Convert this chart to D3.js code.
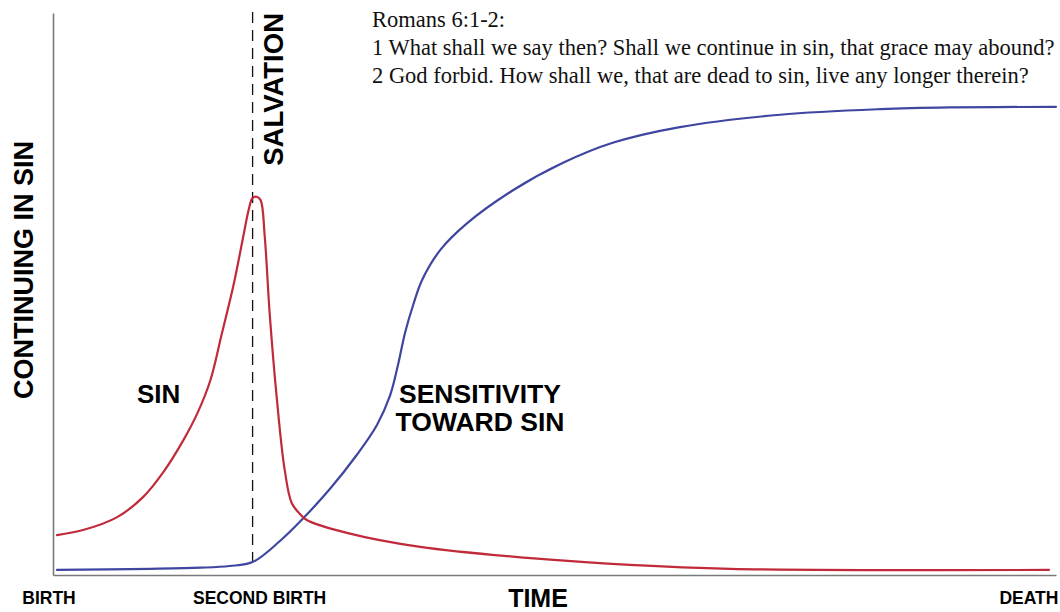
<!DOCTYPE html>
<html>
<head>
<meta charset="utf-8">
<script src="https://cdn.jsdelivr.net/npm/d3@7"></script>
<style>
  html, body { margin: 0; padding: 0; background: #fff; }
  svg { display: block; }
  .bold { font-family: "Liberation Sans", Arial, sans-serif; font-weight: bold; fill: #000; }
  .verse { font-family: "Liberation Serif", "Times New Roman", serif; fill: #111; }
</style>
</head>
<body>
<svg id="chart"></svg>
<script>
// time runs 0 (birth) .. 100 (death), level 0 .. 100
var sinTime = [0.4, 3.0, 6.4, 9.0, 11.0, 13.0, 14.4, 15.7, 16.8, 18.0, 19.0, 19.5, 19.9, 20.3, 20.7, 21.1, 21.6, 22.3, 23.1, 23.8, 24.6, 25.3, 29.3, 36.6, 47.6, 57.5, 67.5, 99.3];
var sinLevel = [7.1, 8.0, 10.3, 13.9, 18.3, 24.0, 28.8, 34.7, 42.7, 51.6, 60.5, 64.9, 67.1, 67.3, 66.7, 60.5, 46.6, 31.7, 18.7, 12.8, 10.9, 9.8, 7.5, 5.0, 3.0, 1.8, 1.1, 0.9];

var sensTime = [0.4, 9.7, 14.7, 17.6, 19.9, 22.6, 24.9, 27.6, 30.3, 32.3, 33.6, 34.4, 35.1, 35.9, 36.8, 38.6, 41.3, 45.9, 50.8, 55.8, 62.5, 72.5, 82.5, 89.4, 100];
var sensLevel = [0.9, 1.1, 1.3, 1.6, 2.3, 6.0, 10.0, 15.3, 21.4, 26.7, 31.9, 37.4, 43.1, 48.0, 52.5, 57.8, 62.6, 68.5, 73.3, 76.9, 79.7, 81.9, 82.9, 83.2, 83.3];

var salvationTime = 19.9;
var salvationFrom = 100.2;
var salvationTo = 2.3;

var tickLabels = ["BIRTH", "SECOND BIRTH", "DEATH"];
var tickTimes = [-0.4, 20.6, 97.3];

var verseLines = [
  "Romans 6:1-2:",
  "1 What shall we say then? Shall we continue in sin, that grace may abound?",
  "2 God forbid. How shall we, that are dead to sin, live any longer therein?"
];

var W = 1060, H = 612;
var padding = {left: 53, right: 4, top: 13, bottom: 37};
var chartArea = {width: W - padding.left - padding.right, height: H - padding.top - padding.bottom};

var svg = d3.select('#chart').attr('width', W).attr('height', H);

var xScale = d3.scaleLinear().domain([0, 100]).range([padding.left, padding.left + chartArea.width]);
var yScale = d3.scaleLinear().domain([0, 100]).range([padding.top + chartArea.height, padding.top]);

// axes: bare lines, no ticks
svg.append('g').attr('class', 'x-axis')
  .attr('transform', 'translate(0,' + yScale(0) + ')')
  .call(d3.axisBottom(xScale).tickValues([]).tickSizeOuter(0))
  .select('.domain').attr('stroke', '#7a7a7a').attr('stroke-width', 1.6);
svg.append('g').attr('class', 'y-axis')
  .attr('transform', 'translate(' + xScale(0) + ',0)')
  .call(d3.axisLeft(yScale).tickValues([]).tickSizeOuter(0))
  .select('.domain').attr('stroke', '#7a7a7a').attr('stroke-width', 1.6);

// salvation marker
svg.append('line')
  .attr('x1', xScale(salvationTime)).attr('x2', xScale(salvationTime))
  .attr('y1', yScale(salvationFrom)).attr('y2', yScale(salvationTo))
  .attr('stroke', '#111').attr('stroke-width', 1.3)
  .attr('stroke-dasharray', '11,7');

var line = d3.line()
  .x(function(d) { return xScale(d[0]); })
  .y(function(d) { return yScale(d[1]); })
  .curve(d3.curveCatmullRom.alpha(0.5));

svg.append('path').datum(d3.zip(sensTime, sensLevel))
  .attr('fill', 'none')
  .attr('stroke', '#3e46a0')
  .attr('stroke-width', 2.2)
  .attr('stroke-linejoin', 'round')
  .attr('stroke-linecap', 'round')
  .attr('d', line);

svg.append('path').datum(d3.zip(sinTime, sinLevel))
  .attr('fill', 'none')
  .attr('stroke', '#c02a3a')
  .attr('stroke-width', 2.2)
  .attr('stroke-linejoin', 'round')
  .attr('stroke-linecap', 'round')
  .attr('d', line);

// labels
svg.append('text').attr('class', 'bold')
  .attr('transform', 'translate(33,270) rotate(-90)')
  .attr('text-anchor', 'middle')
  .style('font-size', '27px')
  .text('CONTINUING IN SIN');

svg.append('text').attr('class', 'bold')
  .attr('transform', 'translate(' + (xScale(salvationTime) + 30) + ',' + 13 + ') rotate(-90)')
  .attr('text-anchor', 'end')
  .style('font-size', '27.5px')
  .text('SALVATION');

svg.append('text').attr('class', 'bold')
  .attr('x', 137).attr('y', 403)
  .style('font-size', '26px')
  .text('SIN');

var sens = svg.append('text').attr('class', 'bold')
  .attr('text-anchor', 'middle')
  .style('font-size', '26.5px');
sens.append('tspan').attr('x', 480).attr('y', 403).text('SENSITIVITY');
sens.append('tspan').attr('x', 480).attr('y', 431).text('TOWARD SIN');

svg.append('text').attr('class', 'bold')
  .attr('x', 538).attr('y', 607)
  .attr('text-anchor', 'middle')
  .style('font-size', '25px')
  .text('TIME');

svg.selectAll('.tick-label').data(tickLabels).enter()
  .append('text').attr('class', 'bold tick-label')
  .attr('x', function(d, i) { return xScale(tickTimes[i]); })
  .attr('y', 604)
  .attr('text-anchor', 'middle')
  .style('font-size', '17.5px')
  .text(function(d) { return d; });

svg.selectAll('.verse').data(verseLines).enter()
  .append('text').attr('class', 'verse')
  .attr('x', 372)
  .attr('y', function(d, i) { return 27 + i * 28; })
  .style('font-size', '22.5px')
  .text(function(d) { return d; });
</script>
</body>
</html>
